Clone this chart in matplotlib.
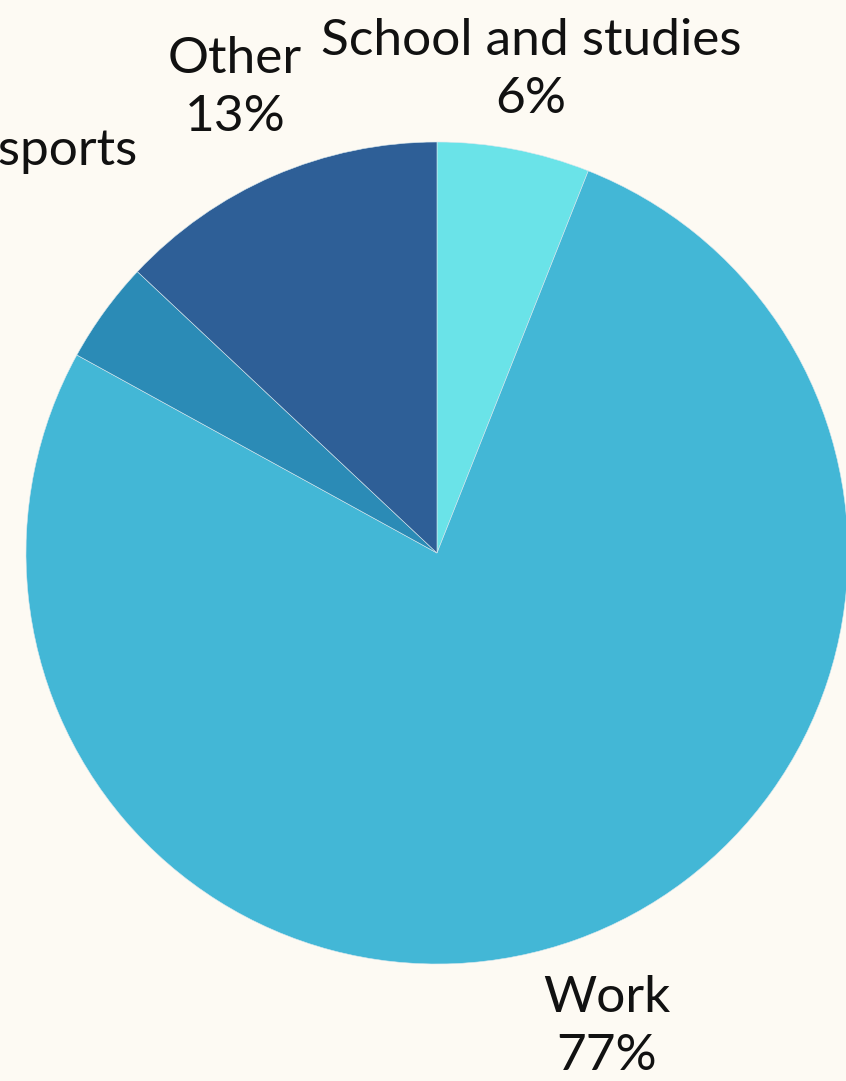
import matplotlib
matplotlib.use("Agg")
from matplotlib import pyplot as plt

labels = ["School and studies", "Work", "Hobbies and sports", "Other"]
shares = [6, 77, 4, 13]
colors = ["#6ae3e8", "#43b7d6", "#2b8bb6", "#2e5f97"]

bg = "#fdfaf3"
W, H = 846, 1081

fig = plt.figure(figsize=(W / 100, H / 100), dpi=100, facecolor=bg)
ax = fig.add_axes([0, 0, 1, 1])
ax.set_facecolor(bg)

wedges, texts = ax.pie(
    shares,
    labels=[f"{l}\n{s}%" for l, s in zip(labels, shares)],
    colors=colors,
    startangle=90,
    counterclock=False,
    center=(437, H - 553),
    radius=411,
    labeldistance=1.2,
    frame=True,
    wedgeprops=dict(linewidth=0.4, edgecolor="#d8e8ef"),
    textprops=dict(fontsize=37, family=["Lato", "DejaVu Sans"], color="#111111",
                   ha="center", va="center", multialignment="center", linespacing=1.3),
)
ax.set(xlim=(0, W), ylim=(0, H))
ax.set_aspect("equal")
ax.axis("off")

# label positions tuned to the reference layout
texts[0].set_position((531, H - 70))
texts[1].set_position((607, H - 1027))
texts[3].set_position((235, H - 88))
texts[2].set_position((137, H - 180))
texts[2].set_ha("right")

fig.savefig("out.png", dpi=100, facecolor=bg)
